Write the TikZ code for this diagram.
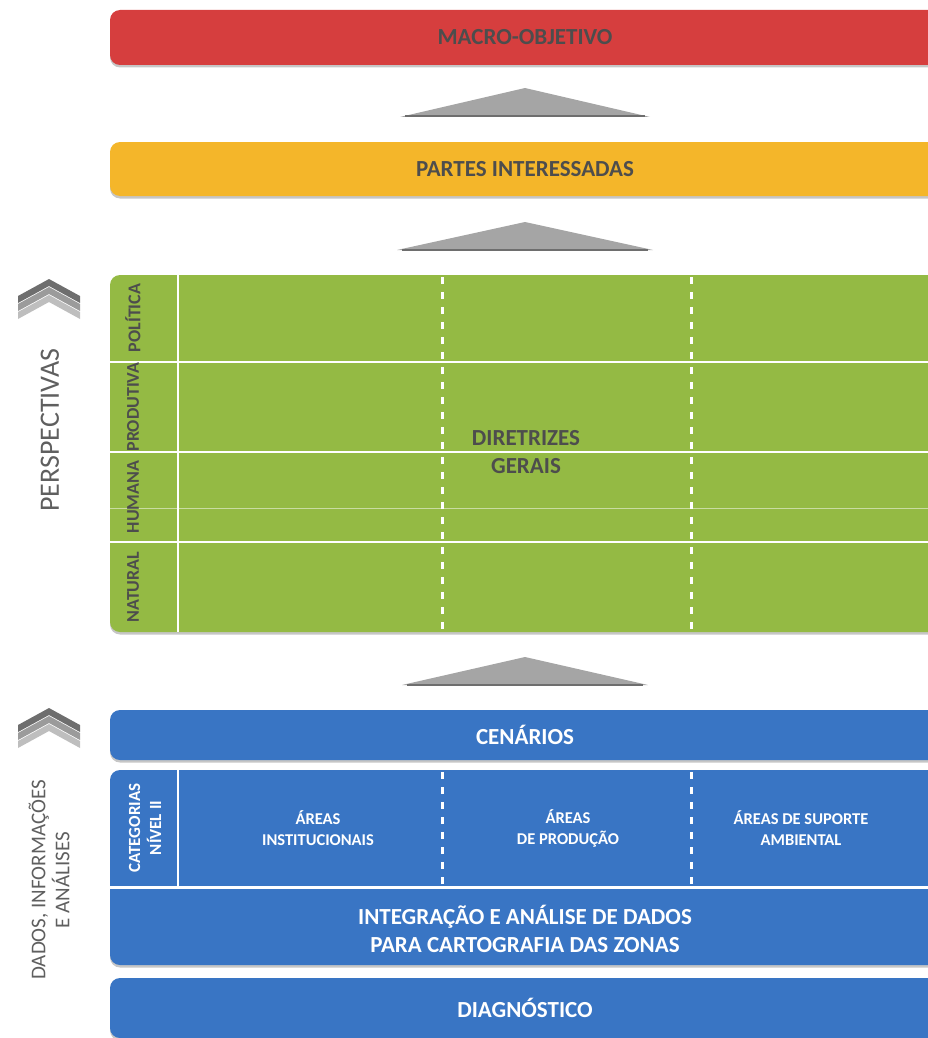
\documentclass[tikz,border=0pt]{standalone}
\usepackage{fontspec}
\setmainfont{Carlito}
\usetikzlibrary{shadows}
\definecolor{redbar}{RGB}{214,62,62}
\definecolor{yelbar}{RGB}{244,182,42}
\definecolor{grnbar}{RGB}{148,186,68}
\definecolor{blubar}{RGB}{57,117,196}
\definecolor{txtdark}{RGB}{77,77,77}
\definecolor{txtgray}{RGB}{95,95,95}
\definecolor{trigray}{RGB}{165,165,165}
\definecolor{tridark}{RGB}{110,110,110}
\definecolor{chevA}{RGB}{110,110,110}
\definecolor{chevB}{RGB}{155,155,155}
\definecolor{chevC}{RGB}{190,190,190}
\tikzset{
  barbox/.style={rounded corners=10pt, minimum width=830pt, inner sep=0pt,
    drop shadow={shadow xshift=0pt, shadow yshift=-2.5pt, opacity=0.45}},
  bartxt/.style={font=\fontsize{23}{28}\selectfont\bfseries, align=center},
  smalltxt/.style={font=\fontsize{16.5}{21}\selectfont\bfseries, text=white, align=center},
  sidelbl/.style={font=\fontsize{18}{20}\selectfont\bfseries, text=txtdark, rotate=90},
  axislbl/.style={font=\fontsize{28}{29}\selectfont, text=txtgray, rotate=90, align=center},
  wline/.style={white, line width=2.2pt},
  wdash/.style={white, line width=3pt, dash pattern=on 7pt off 8pt},
  tri/.style={fill=trigray},
  trib/.style={tridark, line width=2pt},
}
\begin{document}
\begin{tikzpicture}[x=1pt,y=-1pt]
\useasboundingbox (0,0) rectangle (927,1038);
% --- bars
\node[barbox, fill=redbar, minimum height=55pt, bartxt, text=txtdark] (macro) at (525,37.5) {MACRO-OBJETIVO};
\node[barbox, fill=yelbar, minimum height=54pt, bartxt, text=txtdark] (partes) at (525,169) {PARTES INTERESSADAS};
\node[barbox, fill=grnbar, minimum height=357pt] (green) at (525,453.5) {};
\node[barbox, fill=blubar, minimum height=50pt, bartxt, text=white] (cen) at (525,735) {CENÁRIOS};
\node[barbox, fill=blubar, minimum height=195pt] (cat) at (525,867.5) {};
\node[barbox, fill=blubar, minimum height=60pt, bartxt, text=white] (diag) at (525,1008) {DIAGNÓSTICO};

% --- triangles
\fill[tri] (400,117) -- (525,88) -- (650,117) -- cycle;
\draw[trib] (405,116.5) -- (645,116.5);
\fill[tri] (397,250) -- (525,222) -- (653,250) -- cycle;
\draw[trib] (402,249.5) -- (648,249.5);
\fill[tri] (402,685) -- (525,657) -- (648,685) -- cycle;
\draw[trib] (407,684.5) -- (643,684.5);

% --- green grid
\draw[wline] (178,275) -- (178,632);
\draw[wline] (110,362) -- (940,362);
\draw[wline] (110,452) -- (940,452);
\draw[wline] (110,542) -- (940,542);
\draw[white, opacity=0.5, line width=0.6pt] (110,508) -- (940,508);
\draw[wdash] (442,277) -- (442,632);
\draw[wdash] (691,277) -- (691,632);
\node[sidelbl] (pol) at (133,318) {POLÍTICA};
\node[sidelbl] (prod) at (133,407) {PRODUTIVA};
\node[sidelbl] (hum) at (133,497) {HUMANA};
\node[sidelbl] (nat) at (133,587) {NATURAL};
\node[bartxt, text=txtdark] (dir) at (526,452) {DIRETRIZES\\GERAIS};

% --- blue categories block
\draw[wline] (178,770) -- (178,886);
\draw[white, line width=3pt] (110,887) -- (940,887);
\draw[wdash] (442,772) -- (442,886);
\draw[wdash] (691,772) -- (691,886);
\node[font=\fontsize{17}{21}\selectfont\bfseries, text=white, rotate=90, align=center] (catlbl) at (145,828) {CATEGORIAS\\NÍVEL II};
\node[smalltxt] (inst) at (318,828) {ÁREAS\\INSTITUCIONAIS};
\node[smalltxt] (prodarea) at (568,828) {ÁREAS\\DE PRODUÇÃO};
\node[smalltxt] (sup) at (801,828) {ÁREAS DE SUPORTE\\AMBIENTAL};
\node[bartxt, text=white] (integ) at (525,929) {INTEGRAÇÃO E ANÁLISE DE DADOS\\PARA CARTOGRAFIA DAS ZONAS};

% --- chevrons
\foreach \k/\c in {2/chevC,1/chevB,0/chevA}{
  \fill[\c] (18,{296+8*\k}) -- (49,{279+8*\k}) -- (80,{296+8*\k}) -- (80,{303+8*\k}) -- (49,{286+8*\k}) -- (18,{303+8*\k}) -- cycle;
  \fill[\c] (18,{725+8*\k}) -- (49,{708+8*\k}) -- (80,{725+8*\k}) -- (80,{732+8*\k}) -- (49,{715+8*\k}) -- (18,{732+8*\k}) -- cycle;
}
\node[axislbl] (persp) at (50,430) {PERSPECTIVAS};
\node[axislbl, font=\fontsize{21}{24}\selectfont] (dados) at (49,880) {DADOS, INFORMAÇÕES\\E ANÁLISES};
\end{tikzpicture}
\end{document}
